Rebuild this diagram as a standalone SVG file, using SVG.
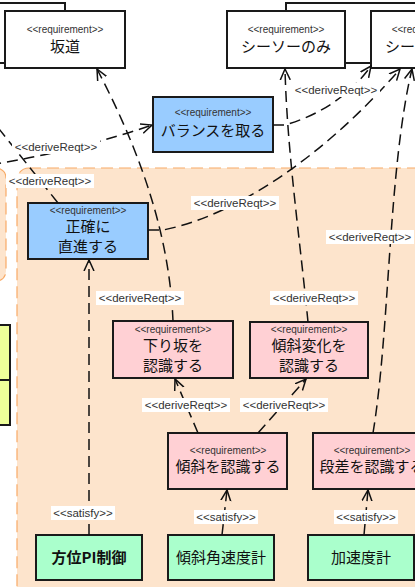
<svg xmlns="http://www.w3.org/2000/svg" width="415" height="587" viewBox="0 0 415 587">
<style>
.box{stroke:#1a1a1a;stroke-width:2}
.wh{fill:#ffffff}.bl{fill:#99ccff}.pk{fill:#ffd0d4}.gr{fill:#aaffcc}.ye{fill:#eeff99}
.st{font-family:"Liberation Sans",Arial,sans-serif;font-size:10px;fill:#333;text-anchor:middle}
.mt{font-family:"Noto Sans CJK JP","Noto Sans",sans-serif;font-size:15px;fill:#111;text-anchor:middle}
.bd{font-weight:bold}
.ln{fill:none;stroke:#111;stroke-width:1.5;stroke-dasharray:11 6}
.lb{font-family:"Liberation Sans",Arial,sans-serif;font-size:11.5px;fill:#333;text-anchor:middle}
.lbg{fill:#ffffff}
</style>
<defs>
<marker id="arr" viewBox="0 0 12 12" refX="11" refY="6" markerWidth="12" markerHeight="12" markerUnits="userSpaceOnUse" orient="auto">
<path d="M0,1 L11,6 L0,11" fill="none" stroke="#111" stroke-width="1.5" stroke-dasharray="none"/>
</marker>
</defs>
<rect width="415" height="587" fill="#ffffff"/>
<!-- regions -->
<rect x="-100" y="168" width="106" height="113" rx="10" fill="#fde4cc" stroke="#f8aa66" stroke-width="1.2" stroke-dasharray="12 6"/>
<rect x="17" y="168" width="450" height="430" rx="12" fill="#fde4cc" stroke="#f8aa66" stroke-width="1.2" stroke-dasharray="12 6"/>
<!-- background boxes -->
<rect x="-60" y="3" width="125" height="60" class="box wh"/>
<rect x="286" y="3" width="200" height="60" class="box wh"/>
<g id="yellow">
<rect x="-100" y="325" width="110" height="55" class="box ye"/>
<rect x="-100" y="380" width="110" height="45" class="box ye"/>
</g>
<g id="n-sakamichi">
<rect x="5" y="11" width="120" height="57" class="box wh"/>
<text x="65" y="33" class="st">&lt;&lt;requirement&gt;&gt;</text>
<text x="65" y="52" class="mt">坂道</text>
</g>
<g id="n-seesaw">
<rect x="227" y="11" width="118" height="57" class="box wh"/>
<text x="286" y="33" class="st">&lt;&lt;requirement&gt;&gt;</text>
<text x="286" y="52" class="mt">シーソーのみ</text>
</g>
<g id="n-seesaw2">
<rect x="371" y="11" width="118" height="57" class="box wh"/>
<text x="430" y="33" class="st">&lt;&lt;requirement&gt;&gt;</text>
<text x="430" y="52" class="mt">シーソー走行</text>
</g>
<g id="n-balance">
<rect x="153" y="97" width="120" height="55" class="box bl"/>
<text x="213" y="116" class="st">&lt;&lt;requirement&gt;&gt;</text>
<text x="213" y="136" class="mt">バランスを取る</text>
</g>
<g id="n-straight">
<rect x="28" y="203" width="120" height="56" class="box bl"/>
<text x="88" y="214" class="st">&lt;&lt;requirement&gt;&gt;</text>
<text x="88" y="232" class="mt">正確に</text>
<text x="88" y="252" class="mt">直進する</text>
</g>
<g id="n-downhill">
<rect x="113" y="321" width="120" height="57" class="box pk"/>
<text x="173" y="333" class="st">&lt;&lt;requirement&gt;&gt;</text>
<text x="173" y="351" class="mt">下り坂を</text>
<text x="173" y="371" class="mt">認識する</text>
</g>
<g id="n-slopechange">
<rect x="250" y="322" width="118" height="56" class="box pk"/>
<text x="309" y="333" class="st">&lt;&lt;requirement&gt;&gt;</text>
<text x="309" y="351" class="mt">傾斜変化を</text>
<text x="309" y="371" class="mt">認識する</text>
</g>
<g id="n-slope">
<rect x="168" y="433" width="119" height="56" class="box pk"/>
<text x="228" y="454" class="st">&lt;&lt;requirement&gt;&gt;</text>
<text x="228" y="472" class="mt">傾斜を認識する</text>
</g>
<g id="n-step">
<rect x="313" y="433" width="118" height="56" class="box pk"/>
<text x="372" y="454" class="st">&lt;&lt;requirement&gt;&gt;</text>
<text x="372" y="472" class="mt">段差を認識する</text>
</g>
<g id="n-pi">
<rect x="36" y="535" width="106" height="45" class="box gr"/>
<text x="89" y="563" class="mt bd">方位PI制御</text>
</g>
<g id="n-gyro">
<rect x="168" y="535" width="106" height="45" class="box gr"/>
<text x="221" y="563" class="mt">傾斜角速度計</text>
</g>
<g id="n-acc">
<rect x="308" y="535" width="106" height="45" class="box gr"/>
<text x="361" y="563" class="mt">加速度計</text>
</g>
<g id="connectors">
<path class="ln" d="M89,535 L89,260" marker-end="url(#arr)"/>
<path class="ln" d="M222,535 L227,490" marker-end="url(#arr)"/>
<path class="ln" d="M364,535 L368,490" marker-end="url(#arr)"/>
<path class="ln" d="M198,433 L175,379" marker-end="url(#arr)"/>
<path class="ln" d="M258,433 L306,379" marker-end="url(#arr)"/>
<path class="ln" d="M173,321 C170,250 150,170 97,69" marker-end="url(#arr)"/>
<path class="ln" d="M308,322 C300,240 287,150 285,69" marker-end="url(#arr)"/>
<path class="ln" d="M148,230 L163,230 C240,215 330,150 400,69" marker-end="url(#arr)"/>
<path class="ln" d="M273,125 L285,125 C320,115 350,95 371,66" marker-end="url(#arr)"/>
<path class="ln" d="M373,433 C390,330 388,170 412,69" marker-end="url(#arr)"/>
<path class="ln" d="M-10,165 Q80,150 152,125" marker-end="url(#arr)"/>
<path class="ln" d="M58,203 L-20,105"/>
<g id="labels">
<rect x="51" y="506" width="64" height="14" class="lbg"/><text x="83" y="517" class="lb">&lt;&lt;satisfy&gt;&gt;</text>
<rect x="194" y="510" width="64" height="14" class="lbg"/><text x="226" y="521" class="lb">&lt;&lt;satisfy&gt;&gt;</text>
<rect x="334" y="510" width="64" height="14" class="lbg"/><text x="366" y="521" class="lb">&lt;&lt;satisfy&gt;&gt;</text>
<rect x="142" y="398" width="88" height="14" class="lbg"/><text x="186" y="409" class="lb">&lt;&lt;deriveReqt&gt;&gt;</text>
<rect x="240" y="398" width="88" height="14" class="lbg"/><text x="284" y="409" class="lb">&lt;&lt;deriveReqt&gt;&gt;</text>
<rect x="96" y="291" width="88" height="14" class="lbg"/><text x="140" y="302" class="lb">&lt;&lt;deriveReqt&gt;&gt;</text>
<rect x="270" y="291" width="88" height="14" class="lbg"/><text x="314" y="302" class="lb">&lt;&lt;deriveReqt&gt;&gt;</text>
<rect x="326" y="230" width="88" height="14" class="lbg"/><text x="370" y="241" class="lb">&lt;&lt;deriveReqt&gt;&gt;</text>
<rect x="191" y="196" width="88" height="14" class="lbg"/><text x="235" y="207" class="lb">&lt;&lt;deriveReqt&gt;&gt;</text>
<rect x="292" y="83" width="88" height="14" class="lbg"/><text x="336" y="94" class="lb">&lt;&lt;deriveReqt&gt;&gt;</text>
<rect x="12" y="140" width="88" height="14" class="lbg"/><text x="56" y="151" class="lb">&lt;&lt;deriveReqt&gt;&gt;</text>
<rect x="6" y="174" width="88" height="14" class="lbg"/><text x="50" y="185" class="lb">&lt;&lt;deriveReqt&gt;&gt;</text>
</g>
</g>
</svg>
